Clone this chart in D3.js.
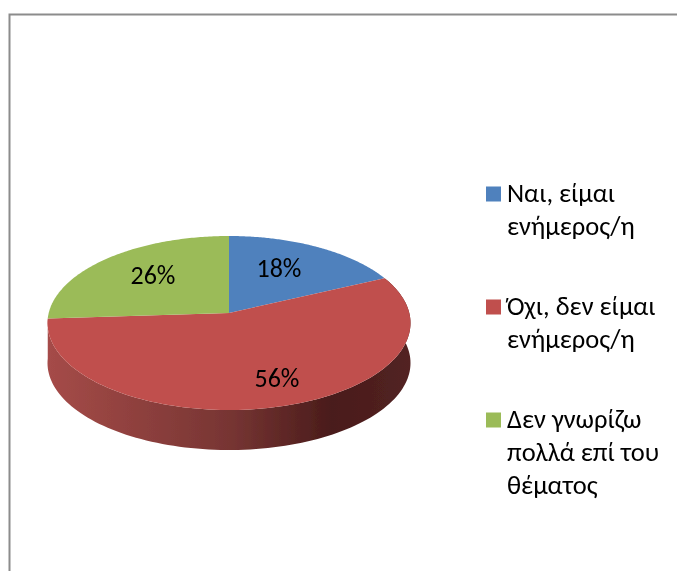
<!DOCTYPE html>
<html><head><meta charset="utf-8">
<style>html,body{margin:0;padding:0;background:#fff}svg{display:block}</style>
<script src="https://cdn.jsdelivr.net/npm/d3@7"></script></head>
<body><svg id="c" width="677" height="571"></svg>
<script>
const categories = ["Ναι, είμαι|ενήμερος/η", "Όχι, δεν είμαι|ενήμερος/η", "Δεν γνωρίζω|πολλά επί του|θέματος"];
const values = [18, 56, 26];
const colors = ["#4f81bd", "#c0504d", "#9bbb59"];
const FONT = "Carlito, 'Open Sans', 'Noto Sans', sans-serif";

const root = d3.select("#c");
const defs = root.append("defs");
defs.append("filter").attr("id", "soft").attr("x", 0).attr("y", 0).attr("width", "100%").attr("height", "100%")
  .attr("filterUnits", "userSpaceOnUse")
  .append("feGaussianBlur").attr("stdDeviation", 0.45);
const svg = root.append("g").attr("filter", "url(#soft)");
svg.append("rect").attr("width", 677).attr("height", 571).attr("fill", "#fff");
svg.append("path").attr("d", "M9.5 580V14.5H690").attr("fill", "none").attr("stroke", "#8c8c8c").attr("stroke-width", 2);

// perspective-tilted pie
const ax = 229, ay = 313, p = -0.115, C = 180.3, B = 85.85, depth = 40;
const px = a => ax + C * Math.sin(a) / (1 - p * Math.cos(a));
const py = a => ay + B * (-Math.cos(a)) / (1 - p * Math.cos(a));
const arcs = d3.pie().sort(null)(values);
const samples = (s, e) => d3.range(0, 121).map(i => s + (e - s) * i / 120);

const g = defs.append("linearGradient").attr("id", "wall").attr("gradientUnits", "userSpaceOnUse")
  .attr("x1", 48).attr("x2", 411).attr("y1", 0).attr("y2", 0);
[[0, "#a54b48"], [0.5, "#773533"], [0.78, "#4a1c1b"], [1, "#522222"]].forEach(s => g.append("stop").attr("offset", s[0]).attr("stop-color", s[1]));

const red = arcs[1];
svg.append("path")
  .attr("d", d3.area().x(px).y0(py).y1(a => py(a) + depth)(samples(red.startAngle, red.endAngle)))
  .attr("fill", "url(#wall)");

const line = d3.line().x(px).y(py);
svg.selectAll(".slice").data(arcs).join("path").attr("class", "slice")
  .attr("d", d => `M${ax},${ay}L` + line(samples(d.startAngle, d.endAngle)).slice(1) + "Z")
  .attr("fill", (d, i) => colors[i]);

const labelPos = [[279, 268], [277, 378], [153, 275]];
svg.selectAll(".pct").data(arcs).join("text").attr("class", "pct")
  .attr("x", (d, i) => labelPos[i][0]).attr("y", (d, i) => labelPos[i][1])
  .attr("dy", "0.35em").attr("text-anchor", "middle")
  .attr("font-family", FONT).attr("font-size", 26).attr("fill", "#000")
  .text(d => d.value + "%");

// legend
const legendY = [194, 307, 420];
categories.forEach((c, i) => {
  svg.append("rect").attr("x", 486).attr("y", legendY[i] - 7.5).attr("width", 15).attr("height", 15).attr("fill", colors[i]);
  c.split("|").forEach((t, j) => {
    svg.append("text").attr("x", 507).attr("y", legendY[i] + 8 + j * 33)
      .attr("font-family", FONT).attr("font-size", 26.5).attr("fill", "#000").text(t);
  });
});
</script></body></html>
